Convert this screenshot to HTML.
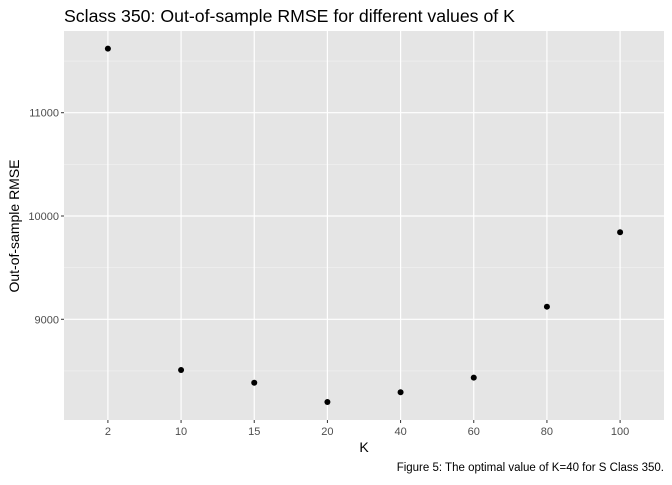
<!DOCTYPE html>
<html><head><meta charset="utf-8"><style>
body{margin:0;background:#fff;}
svg text{font-family:"Liberation Sans",Arial,sans-serif;}
</style></head><body>
<svg id="chart" width="672" height="480" viewBox="0 0 672 480">
<text x="64" y="22" font-size="17.7" fill="#000">Sclass 350: Out-of-sample RMSE for different values of K</text>
<rect x="64" y="31" width="600" height="389" fill="#e5e5e5"/>
<g id="grid"></g>
<g id="axes"></g>
<g id="points"></g>
<text x="364" y="452" font-size="14" text-anchor="middle">K</text>
<text transform="translate(19,226) rotate(-90)" font-size="14" text-anchor="middle">Out-of-sample RMSE</text>
<text x="664" y="471" font-size="11.5" text-anchor="end">Figure 5: The optimal value of K=40 for S Class 350.</text>
</svg>
<script>
const categories=["2","10","15","20","40","60","80","100"];
const rmse=[11620,8509,8386,8199,8294,8435,9122,9843];
const yTicks=[9000,10000,11000];
const yMinor=[8500,9500,10500,11500];
const NS="http://www.w3.org/2000/svg";
const pLeft=64,pRight=664,pTop=31,pBottom=420;
const yMin=8025,yMax=11791;
const step=(pRight-pLeft)/(categories.length+0.2);
function xPos(i){return pLeft+step*(0.6+i);}
function yPos(v){return pBottom-(v-yMin)/(yMax-yMin)*(pBottom-pTop);}
function mk(tag,attrs,parent){const e=document.createElementNS(NS,tag);for(const k in attrs)e.setAttribute(k,attrs[k]);parent.appendChild(e);return e;}
const grid=document.getElementById('grid'),axes=document.getElementById('axes'),pts=document.getElementById('points');
yMinor.forEach(v=>{const l=mk('line',{x1:pLeft,x2:pRight,y1:yPos(v),y2:yPos(v),stroke:'#f2f2f2','stroke-width':0.6},grid);

});
yTicks.forEach(v=>{const l=mk('line',{x1:pLeft,x2:pRight,y1:yPos(v),y2:yPos(v),stroke:'#fff','stroke-width':1.2},grid);


const t=mk('line',{x1:pLeft-3,x2:pLeft,y1:yPos(v),y2:yPos(v),stroke:'#333','stroke-width':1},axes);


const tx=mk('text',{x:pLeft-5,y:yPos(v)+4,'font-size':11,'text-anchor':'end',fill:'#4d4d4d'},axes);tx.textContent=v;

});
categories.forEach((c,i)=>{const l=mk('line',{x1:xPos(i),x2:xPos(i),y1:pTop,y2:pBottom,stroke:'#fff','stroke-width':1.2},grid);


const t=mk('line',{x1:xPos(i),x2:xPos(i),y1:pBottom,y2:pBottom+3,stroke:'#333','stroke-width':1},axes);


const tx=mk('text',{x:xPos(i),y:pBottom+15,'font-size':11,'text-anchor':'middle',fill:'#4d4d4d'},axes);tx.textContent=c;


const p=mk('circle',{cx:xPos(i),cy:yPos(rmse[i]),r:3,fill:'#000'},pts);

});
</script>
</body></html>
